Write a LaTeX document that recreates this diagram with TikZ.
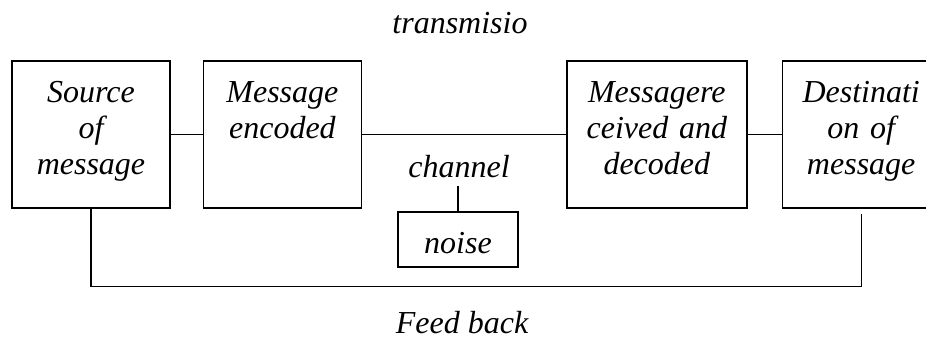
\documentclass[tikz,border=0pt]{standalone}
\usepackage{fontspec}
\setmainfont{Liberation Serif}
\usepackage{tikz}
\usetikzlibrary{positioning, calc}

\tikzset{
    stage/.style={draw, line width=0.7pt, minimum width=79pt, text width=77pt, align=center,
        inner xsep=1pt, inner ysep=0pt, text height=20.75pt, text depth=52.75pt},
    noisebox/.style={draw, line width=1.3pt, minimum width=60pt, minimum height=27.5pt},
    link/.style={line width=0.7pt},
    lbl/.style={inner sep=2pt, anchor=base}
}

\begin{document}
\begin{tikzpicture}[x=0.5pt, y=-0.5pt, font=\fontsize{16}{18}\selectfont\itshape]
    \useasboundingbox (0, 0) rectangle (926, 337);

    % Stages of the message
    \node[stage] (src) at (91, 134.5) {Source\\of\\message};
    \node[stage, right=16pt of src] (enc) {Message\\encoded};
    \node[stage, right=102pt of enc, minimum width=90pt, text width=88pt] (rec) {Messagere\\ceived and\\decoded};
    \node[stage, right=17pt of rec] (dest) {Destinati\\on of\\message};

    \draw[link] (src) -- (enc);
    \draw[link] (enc) -- (rec);
    \draw[link] (rec) -- (dest);

    % Channel and noise
    \node[lbl] (trans) at (460, 33) {transmisio};
    \node[noisebox] (noise) at (458, 239.5) {};
    \node[lbl] (noiset) at (458, 253) {noise};
    \node[lbl, inner sep=4pt] (chan) at (459, 177) {channel};
    \draw[link] (chan.south -| noise.north) -- (noise.north);

    % Feed back loop
    \coordinate (fbend) at ([yshift=-2.5pt]dest.south);
    \draw[link] (src.south) -- ++(0, 78) -| (fbend);
    \node[lbl, inner sep=0.5pt] (fb) at (462, 333) {Feed back};
\end{tikzpicture}
\end{document}
